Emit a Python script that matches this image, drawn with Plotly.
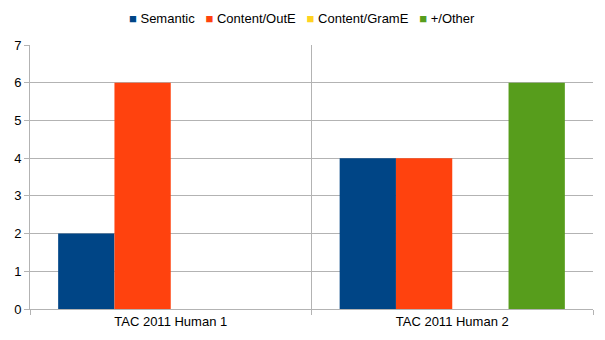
import plotly.graph_objects as go

categories = ["TAC 2011 Human 1", "TAC 2011 Human 2"]
semantic = [2, 4]
content_oute = [6, 4]
content_grame = [0, 0]
other = [0, 6]

series = [
    ("Semantic", semantic, "#004586"),
    ("Content/OutE", content_oute, "#ff420e"),
    ("Content/GramE", content_grame, "#ffd320"),
    ("+/Other", other, "#579d1c"),
]

fig = go.Figure()
for name, vals, color in series:
    fig.add_trace(go.Bar(x=categories, y=vals, name=name, marker_color=color,
                         marker_line_width=0, showlegend=False))

# legend drawn as one line of text, LibreOffice style (small squares, tight spacing)
legend_text = "&nbsp;&nbsp;&nbsp;".join(
    f'<span style="color:{c}">■</span>&nbsp;{n}' for n, _, c in series
)
# centred on the page rather than on the plot area
fig.add_annotation(text=legend_text, xref="paper", yref="paper", x=0.483, y=1.0,
                   yshift=27, xanchor="center", yanchor="middle", showarrow=False,
                   font=dict(size=13))

grid = "#b3b3b3"
# page body has an 8px margin, so the figure is sized/offset to compensate
fig.update_layout(
    width=597, height=332,
    margin=dict(l=22, r=12, t=37, b=31),
    paper_bgcolor="white", plot_bgcolor="white",
    font=dict(family="Liberation Sans, Arial, sans-serif", size=13, color="#000000"),
    barmode="group", bargap=0.2, bargroupgap=0,
)
fig.update_xaxes(
    tickson="boundaries", showgrid=True, gridcolor=grid, gridwidth=1,
    ticks="outside", ticklen=5, tickcolor=grid,
    showline=True, linecolor=grid, linewidth=1,
    range=[-0.5, 1.5], zeroline=False, automargin=False,
)
fig.update_yaxes(
    range=[0, 7], dtick=1, showgrid=True, gridcolor=grid, gridwidth=1,
    ticks="outside", ticklen=5, tickcolor=grid,
    showline=True, linecolor=grid, linewidth=1, zeroline=False, automargin=False,
)

fig.write_html("out.html")
